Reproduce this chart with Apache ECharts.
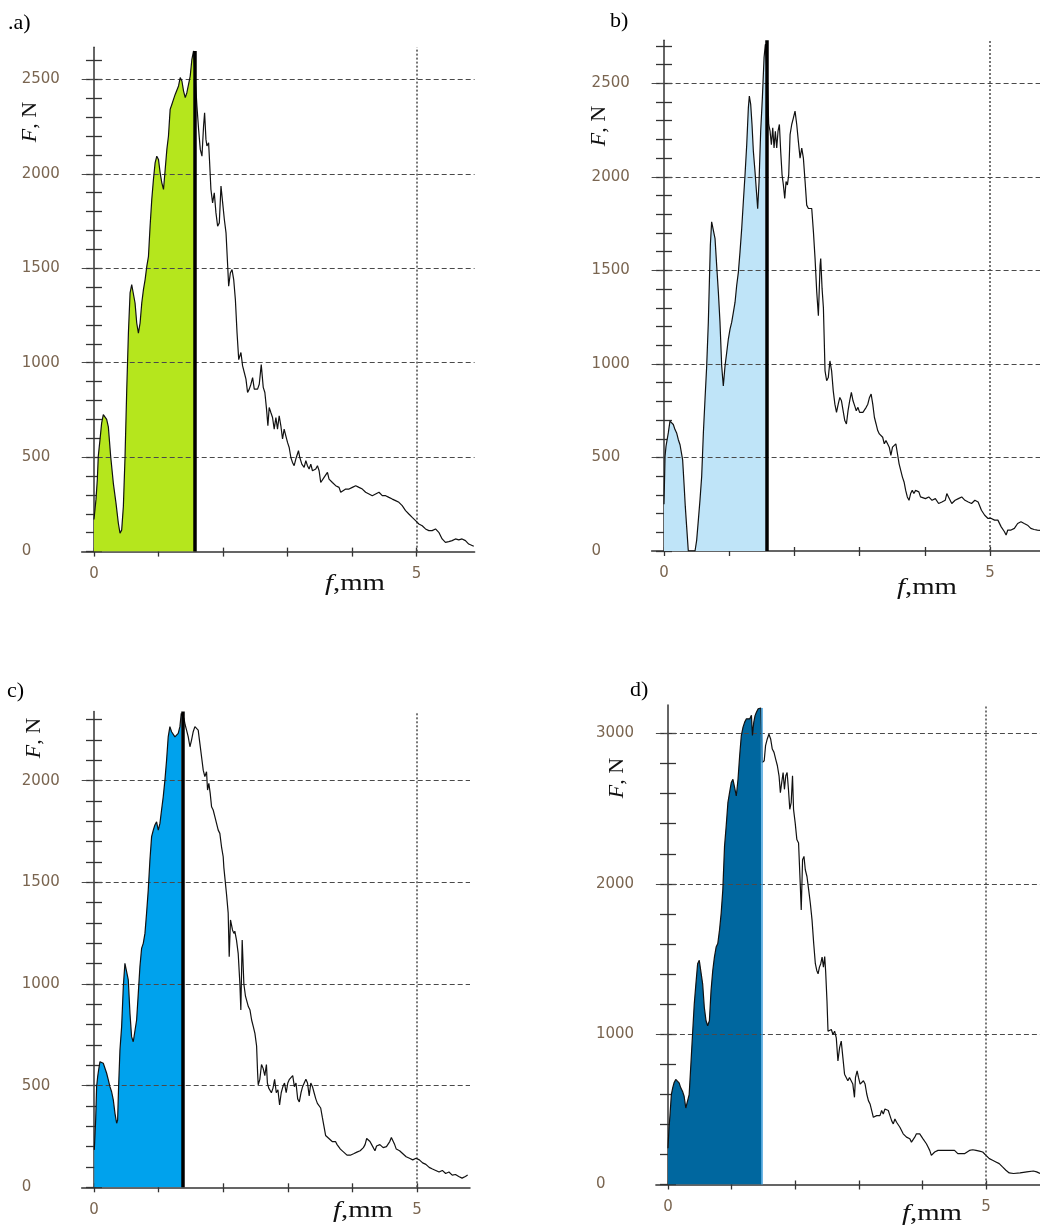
<!DOCTYPE html>
<html>
<head>
<meta charset="utf-8">
<script src="https://cdn.jsdelivr.net/npm/echarts@6/dist/echarts.min.js"></script>
<style>
html,body{margin:0;padding:0;background:#ffffff;}
#chart{width:1040px;height:1227px;}
</style>
</head>
<body>
<div id="chart"></div>
<script>
// ---------------- DATA ----------------
// deflection f (mm), force F (N)
const curveA = [
[0.000,170],[0.031,275],[0.052,380],[0.067,505],[0.093,590],[0.119,680],[0.145,725],[0.171,725],[0.197,700],[0.223,660],[0.259,505],[0.301,360],[0.342,255],[0.378,150],[0.404,97],[0.430,115],[0.456,240],[0.482,505],[0.508,855],[0.534,1157],[0.560,1370],[0.585,1413],[0.611,1405],[0.637,1316],[0.663,1210],[0.689,1157],[0.715,1210],[0.741,1316],[0.767,1387],[0.793,1440],[0.819,1510],[0.845,1563],[0.870,1722],[0.896,1864],[0.922,1970],[0.948,2058],[0.974,2093],[1.000,2076],[1.026,2005],[1.052,1952],[1.078,1917],[1.104,2023],[1.130,2129],[1.155,2200],[1.181,2341],[1.207,2367],[1.233,2394],[1.259,2420],[1.285,2429],[1.311,2465],[1.337,2509],[1.363,2491],[1.389,2438],[1.415,2403],[1.440,2429],[1.466,2438],[1.492,2517],[1.518,2606],[1.544,2650],[1.560,2650],
[1.596,2359],[1.622,2235],[1.648,2129],[1.674,2093],[1.699,2253],[1.715,2323],[1.736,2182],[1.751,2147],[1.777,2164],[1.793,2058],[1.813,1917],[1.839,1846],[1.865,1899],[1.891,1793],[1.917,1722],[1.943,1740],[1.969,1935],[1.995,1846],[2.021,1758],[2.047,1687],[2.073,1510],[2.088,1405],[2.114,1475],[2.140,1493],[2.166,1440],[2.192,1334],[2.218,1157],[2.244,1016],[2.278,1054],[2.304,983],[2.330,948],[2.356,913],[2.381,842],[2.407,860],[2.433,886],[2.459,921],[2.485,860],[2.510,869],[2.536,860],[2.562,886],[2.593,990],[2.624,869],[2.649,842],[2.675,754],[2.696,666],[2.716,763],[2.742,736],[2.768,710],[2.794,648],[2.820,710],[2.845,648],[2.871,719],[2.897,666],[2.923,596],[2.948,648],[2.974,613],[3.000,578],[3.026,551],[3.052,498],[3.077,472],[3.103,455],[3.129,490],[3.170,534],[3.191,498],[3.222,463],[3.258,446],[3.284,481],[3.309,455],[3.335,437],[3.361,463],[3.387,428],[3.412,419],[3.438,437],[3.464,455],[3.490,428],[3.515,366],[3.541,375],[3.567,393],[3.593,402],[3.619,419],[3.644,384],[3.670,375],[3.696,366],[3.722,358],[3.747,349],[3.799,340],[3.825,314],[3.851,322],[3.902,331],[3.954,331],[4.005,340],[4.057,349],[4.108,340],[4.160,331],[4.211,314],[4.263,305],[4.314,296],[4.340,287],[4.366,305],[4.418,314],[4.469,296],[4.521,296],[4.572,287],[4.624,278],[4.675,270],[4.727,261],[4.778,243],[4.830,217],[4.881,199],[4.933,181],[4.985,164],[5.036,146],[5.088,137],[5.139,120],[5.191,111],[5.242,111],[5.294,120],[5.345,102],[5.397,67],[5.448,49],[5.500,53],[5.552,58],[5.603,67],[5.655,62],[5.706,67],[5.758,58],[5.809,40],[5.887,28]
];
const curveB = [
[0.000,250],[0.016,505],[0.031,560],[0.066,631],[0.092,694],[0.118,703],[0.143,676],[0.169,649],[0.194,631],[0.220,595],[0.246,568],[0.271,559],[0.286,487],[0.307,362],[0.327,237],[0.348,129],[0.373,0],[0.476,0],[0.501,57],[0.527,165],[0.552,272],[0.578,398],[0.604,631],[0.629,810],[0.655,989],[0.680,1222],[0.696,1437],[0.711,1634],[0.731,1760],[0.757,1760],[0.783,1670],[0.808,1527],[0.834,1384],[0.859,1222],[0.885,989],[0.910,882],[0.936,989],[0.962,1061],[0.987,1133],[1.013,1186],[1.038,1222],[1.064,1276],[1.090,1330],[1.115,1419],[1.141,1491],[1.166,1599],[1.192,1724],[1.217,1867],[1.243,2011],[1.269,2172],[1.294,2369],[1.309,2432],[1.330,2387],[1.350,2280],[1.371,2136],[1.396,2029],[1.422,1903],[1.437,1830],[1.458,1975],[1.483,2244],[1.509,2423],[1.535,2638],[1.555,2710],[1.570,2710],
[1.586,2513],[1.606,2280],[1.627,2244],[1.647,2172],[1.668,2262],[1.688,2154],[1.708,2244],[1.729,2154],[1.749,2244],[1.770,2280],[1.790,2136],[1.811,2011],[1.831,1957],[1.852,1885],[1.872,1975],[1.893,1957],[1.913,2011],[1.934,2226],[1.959,2280],[1.985,2315],[2.010,2351],[2.036,2280],[2.061,2190],[2.087,2100],[2.113,2154],[2.138,2100],[2.164,1975],[2.189,1849],[2.215,1831],[2.240,1831],[2.266,1831],[2.292,1706],[2.317,1563],[2.343,1384],[2.368,1258],[2.394,1527],[2.404,1563],[2.425,1401],[2.445,1300],[2.470,963],[2.495,910],[2.520,927],[2.545,1016],[2.571,963],[2.596,856],[2.621,785],[2.646,741],[2.672,785],[2.697,821],[2.722,803],[2.747,750],[2.773,697],[2.798,679],[2.823,750],[2.848,803],[2.874,848],[2.899,803],[2.924,777],[2.949,750],[2.975,768],[3.000,741],[3.025,732],[3.051,741],[3.076,750],[3.101,768],[3.126,785],[3.152,821],[3.177,839],[3.202,785],[3.227,715],[3.253,679],[3.278,644],[3.303,626],[3.328,635],[3.354,608],[3.379,573],[3.404,590],[3.429,573],[3.455,555],[3.480,511],[3.505,555],[3.530,564],[3.556,573],[3.581,520],[3.606,466],[3.631,431],[3.657,395],[3.682,369],[3.707,324],[3.732,289],[3.758,271],[3.783,307],[3.808,324],[3.833,307],[3.859,324],[3.884,333],[3.909,316],[3.934,289],[3.960,298],[4.010,280],[4.061,289],[4.111,271],[4.162,280],[4.212,254],[4.263,262],[4.313,271],[4.338,307],[4.364,289],[4.414,254],[4.465,271],[4.515,280],[4.566,289],[4.616,271],[4.667,262],[4.717,254],[4.768,271],[4.818,262],[4.869,218],[4.919,191],[4.970,174],[5.020,174],[5.071,165],[5.121,165],[5.172,129],[5.222,103],[5.247,85],[5.273,112],[5.323,112],[5.374,121],[5.424,147],[5.475,156],[5.525,147],[5.576,138],[5.626,121],[5.677,115],[5.727,112],[5.767,110]
];
const curveC = [
[0.005,184],[0.026,331],[0.041,495],[0.057,544],[0.072,577],[0.093,618],[0.119,626],[0.144,610],[0.170,602],[0.196,561],[0.222,528],[0.247,495],[0.273,470],[0.299,430],[0.325,364],[0.351,315],[0.366,331],[0.381,495],[0.402,675],[0.428,790],[0.454,987],[0.479,1102],[0.505,1102],[0.531,1020],[0.557,856],[0.582,741],[0.608,716],[0.634,725],[0.660,823],[0.686,954],[0.711,1085],[0.737,1175],[0.763,1200],[0.789,1249],[0.814,1348],[0.840,1462],[0.866,1610],[0.892,1725],[0.918,1757],[0.943,1782],[0.969,1798],[0.995,1757],[1.021,1790],[1.046,1856],[1.072,1921],[1.098,2003],[1.124,2102],[1.149,2216],[1.175,2266],[1.201,2241],[1.227,2233],[1.253,2216],[1.278,2225],[1.304,2233],[1.330,2266],[1.351,2331],[1.371,2339],
[1.392,2307],[1.412,2274],[1.433,2249],[1.459,2216],[1.485,2167],[1.510,2200],[1.536,2241],[1.562,2266],[1.588,2274],[1.613,2249],[1.639,2184],[1.665,2118],[1.691,2052],[1.716,2020],[1.742,2044],[1.758,1954],[1.778,1987],[1.799,1938],[1.820,1872],[1.845,1856],[1.871,1823],[1.897,1790],[1.923,1757],[1.948,1741],[1.974,1675],[2.000,1626],[2.010,1574],[2.052,1440],[2.077,1350],[2.093,1134],[2.113,1315],[2.144,1266],[2.165,1249],[2.180,1260],[2.206,1216],[2.232,1151],[2.258,1003],[2.273,872],[2.294,1216],[2.320,1000],[2.345,940],[2.389,889],[2.415,872],[2.440,823],[2.466,790],[2.491,757],[2.517,695],[2.532,567],[2.542,504],[2.567,531],[2.593,604],[2.618,585],[2.644,549],[2.669,604],[2.684,513],[2.705,488],[2.720,480],[2.746,465],[2.771,488],[2.796,531],[2.822,465],[2.847,480],[2.873,405],[2.898,465],[2.924,495],[2.949,513],[2.975,465],[3.000,513],[3.025,531],[3.051,522],[3.076,549],[3.102,495],[3.127,513],[3.153,435],[3.178,420],[3.204,465],[3.229,495],[3.254,513],[3.280,531],[3.305,513],[3.331,450],[3.356,513],[3.382,495],[3.407,465],[3.433,435],[3.458,413],[3.483,405],[3.509,390],[3.534,345],[3.560,300],[3.585,255],[3.611,248],[3.636,240],[3.662,233],[3.687,225],[3.712,233],[3.738,225],[3.763,210],[3.789,203],[3.814,188],[3.865,173],[3.916,158],[3.967,158],[4.018,165],[4.069,173],[4.120,180],[4.170,195],[4.196,210],[4.221,240],[4.247,245],[4.272,225],[4.298,210],[4.323,203],[4.349,180],[4.374,203],[4.399,195],[4.425,210],[4.450,203],[4.476,195],[4.527,200],[4.578,225],[4.603,245],[4.628,240],[4.654,210],[4.679,188],[4.730,180],[4.781,165],[4.832,150],[4.883,143],[4.934,135],[4.985,143],[5.036,135],[5.087,120],[5.137,113],[5.188,98],[5.239,90],[5.290,83],[5.341,75],[5.392,83],[5.443,68],[5.494,75],[5.545,60],[5.595,63],[5.646,53],[5.697,45],[5.748,53],[5.784,60]
];
const curveD = [
[0.000,241],[0.016,375],[0.032,464],[0.053,598],[0.074,643],[0.095,676],[0.122,699],[0.148,699],[0.175,676],[0.201,643],[0.228,621],[0.254,587],[0.280,509],[0.307,509],[0.333,598],[0.360,799],[0.386,1000],[0.413,1201],[0.439,1335],[0.466,1469],[0.492,1491],[0.519,1480],[0.545,1335],[0.571,1179],[0.598,1089],[0.624,1056],[0.651,1089],[0.677,1290],[0.704,1424],[0.730,1513],[0.757,1580],[0.783,1603],[0.810,1692],[0.836,1804],[0.862,1960],[0.889,2250],[0.915,2384],[0.942,2540],[0.968,2607],[0.995,2674],[1.021,2696],[1.048,2641],[1.074,2585],[1.101,2696],[1.127,2853],[1.153,2987],[1.180,3043],[1.206,3076],[1.233,3098],[1.259,3109],[1.286,3098],[1.312,3121],[1.328,2987],[1.349,3076],[1.370,3121],[1.392,3143],[1.418,3165],[1.460,3170],[1.471,3170],
[1.481,2808],[1.513,2819],[1.534,2920],[1.561,2964],[1.587,2996],[1.614,2964],[1.640,2897],[1.667,2875],[1.693,2830],[1.720,2786],[1.746,2719],[1.767,2607],[1.788,2674],[1.810,2741],[1.831,2629],[1.852,2719],[1.873,2741],[1.894,2629],[1.915,2496],[1.937,2540],[1.958,2719],[1.974,2496],[2.000,2406],[2.026,2295],[2.053,2272],[2.079,2004],[2.095,1826],[2.116,2161],[2.138,2183],[2.159,2094],[2.185,2049],[2.212,1960],[2.238,1871],[2.265,1759],[2.291,1603],[2.317,1469],[2.339,1424],[2.360,1402],[2.381,1446],[2.402,1469],[2.423,1513],[2.444,1446],[2.464,1516],[2.479,1417],[2.500,1219],[2.516,1020],[2.542,1009],[2.568,1031],[2.594,998],[2.620,1020],[2.646,976],[2.672,822],[2.698,910],[2.724,954],[2.750,844],[2.776,734],[2.802,712],[2.828,690],[2.854,712],[2.880,701],[2.906,668],[2.932,580],[2.948,712],[2.974,756],[2.995,712],[3.021,668],[3.047,668],[3.073,690],[3.099,668],[3.125,602],[3.151,558],[3.177,536],[3.203,492],[3.229,447],[3.255,447],[3.281,458],[3.307,447],[3.333,458],[3.359,492],[3.385,469],[3.411,502],[3.438,513],[3.464,492],[3.490,458],[3.516,425],[3.542,403],[3.568,436],[3.594,414],[3.620,403],[3.646,381],[3.672,370],[3.698,337],[3.724,326],[3.750,315],[3.776,326],[3.802,304],[3.828,282],[3.854,293],[3.880,315],[3.906,337],[3.932,326],[3.958,337],[3.984,326],[4.010,304],[4.036,293],[4.063,271],[4.089,249],[4.115,227],[4.141,194],[4.167,205],[4.193,216],[4.245,227],[4.297,227],[4.349,227],[4.401,227],[4.453,227],[4.505,227],[4.557,205],[4.609,205],[4.661,205],[4.688,194],[4.740,227],[4.792,231],[4.844,227],[4.896,222],[4.948,216],[5.000,194],[5.052,172],[5.104,161],[5.156,150],[5.208,139],[5.260,117],[5.313,95],[5.365,77],[5.432,73],[5.536,77],[5.641,84],[5.745,90],[5.797,84],[5.849,73]
];
// end of the coloured area (mm) and top of the thick marker line (N)
const cutA = 1.560, cutB = 1.570, cutC = 1.371, cutD = 1.471;
const barTopA = 2650, barTopB = 2730, barTopC = 2340;
// axis ticks / labels
const xTickValues = [0, 1, 2, 3, 4, 5];
const xLabelValues = [0, 5];
const yLabelsA = [0, 500, 1000, 1500, 2000, 2500];
const yLabelsB = [0, 500, 1000, 1500, 2000, 2500];
const yLabelsC = [0, 500, 1000, 1500, 2000];
const yLabelsD = [0, 1000, 2000, 3000];
const gridLinesA = [500, 1000, 1500, 2000, 2500];
const gridLinesB = [500, 1000, 1500, 2000, 2500];
const gridLinesC = [500, 1000, 1500, 2000];
const gridLinesD = [1000, 2000, 3000];
const panelTags = ['.a)', 'b)', 'c)', 'd)'];

function steps(a, b, s) { const r = []; for (let v = a; v <= b + 1e-9; v += s) r.push(Math.round(v)); return r; }

// ---------------- LAYOUT / STYLE ----------------
const LABEL_COLOR = '#7a6550';
const AXIS_COLOR = '#333333';
const GRID_COLOR = '#4a4a4a';
const XMIN = -0.19;

const panels = [
  { curve: curveA, cut: cutA, barTop: barTopA, fill: '#b5e61d', edge: null,
    rect: { left: 81.7, top: 47.2, width: 392.9, height: 504.4 }, xMax: 5.9, yMax: 2670, interval: 500,
    ticks: steps(0, 2600, 100), labels: yLabelsA, lines: gridLinesA },
  { curve: curveB, cut: cutB, barTop: barTopB, fill: '#bfe4f8', edge: null,
    rect: { left: 651.6, top: 40.3, width: 388.4, height: 510.7 }, xMax: 5.767, yMax: 2730, interval: 500,
    ticks: steps(0, 2700, 100), labels: yLabelsB, lines: gridLinesB },
  { curve: curveC, cut: cutC, barTop: barTopC, fill: '#00a2ed', edge: null,
    rect: { left: 81.7, top: 711.6, width: 388.3, height: 475.7 }, xMax: 5.82, yMax: 2340, interval: 500,
    ticks: steps(0, 2300, 100), labels: yLabelsC, lines: gridLinesC },
  { curve: curveD, cut: cutD, barTop: null, fill: '#00679f', edge: '#3f9fdc',
    rect: { left: 655.9, top: 705.0, width: 384.1, height: 479.5 }, xMax: 5.849, yMax: 3190, interval: 1000,
    ticks: steps(0, 3000, 200), labels: yLabelsD, lines: gridLinesD }
];

const option = { animation: false, backgroundColor: '#ffffff', grid: [], xAxis: [], yAxis: [], series: [], graphic: [] };

panels.forEach((p, i) => {
  option.grid.push(Object.assign({ containLabel: false, outerBoundsMode: 'none', show: false }, p.rect));
  const xi = option.xAxis.length;
  const tickStyle = { color: AXIS_COLOR, width: 1.3 };
  option.xAxis.push({
    type: 'value', gridIndex: i, min: XMIN, max: p.xMax, position: 'bottom',
    axisLine: { show: true, onZero: false, lineStyle: { color: AXIS_COLOR, width: 1.5 } },
    axisTick: { show: true, inside: false, length: 5, customValues: xTickValues, lineStyle: tickStyle },
    axisLabel: { show: true, customValues: xLabelValues, margin: 15, color: LABEL_COLOR,
      fontFamily: 'DejaVu Sans', fontSize: 15, formatter: v => String(v) },
    splitLine: { show: false }
  });
  option.xAxis.push({
    type: 'value', gridIndex: i, min: XMIN, max: p.xMax, position: 'bottom',
    axisLine: { show: false, onZero: false },
    axisTick: { show: true, inside: true, length: 4, customValues: xTickValues, lineStyle: tickStyle },
    axisLabel: { show: false }, splitLine: { show: false }
  });
  const yi = option.yAxis.length;
  option.yAxis.push({
    type: 'value', gridIndex: i, min: 0, max: p.yMax, interval: p.interval, position: 'left',
    axisLine: { show: true, onZero: true, onZeroAxisIndex: xi, lineStyle: { color: AXIS_COLOR, width: 1.5 } },
    axisTick: { show: true, inside: true, length: 8, customValues: p.ticks, lineStyle: tickStyle },
    axisLabel: { show: true, customValues: p.labels, align: 'left', margin: 60, color: LABEL_COLOR,
      fontFamily: 'DejaVu Sans', fontSize: 15, formatter: v => String(v) },
    splitLine: { show: false }
  });
  option.yAxis.push({
    type: 'value', gridIndex: i, min: 0, max: p.yMax, interval: p.interval, position: 'left',
    axisLine: { show: false, onZero: true, onZeroAxisIndex: xi },
    axisTick: { show: true, inside: false, length: 8, customValues: p.ticks, lineStyle: tickStyle },
    axisLabel: { show: false }, splitLine: { show: false }
  });

  const gridMarks = p.lines.map(v => ({ yAxis: v, lineStyle: { color: GRID_COLOR, width: 1, type: [5, 3] } }));
  gridMarks.push({ xAxis: 5, lineStyle: { color: GRID_COLOR, width: 1.5, type: [2, 2] } });

  // coloured area up to the cut
  option.series.push({
    type: 'line', xAxisIndex: xi, yAxisIndex: yi, silent: true, symbol: 'none', showSymbol: false,
    data: p.curve.filter(d => d[0] <= p.cut + 1e-9),
    lineStyle: { width: 0, opacity: 0 }, areaStyle: { color: p.fill, opacity: 1 }, z: 1,
    markLine: { silent: true, symbol: ['none', 'none'], label: { show: false }, z: 2, animation: false, data: gridMarks }
  });

  const barMarks = [];
  if (p.barTop !== null) {
    barMarks.push([{ coord: [p.cut, 0], lineStyle: { color: '#000', width: 3.5, type: 'solid' } }, { coord: [p.cut, p.barTop] }]);
  }
  if (p.edge) {
    const top = p.curve.filter(d => d[0] <= p.cut + 1e-9).slice(-1)[0][1];
    barMarks.push([{ coord: [p.cut, 0], lineStyle: { color: p.edge, width: 1.5, type: 'solid' } }, { coord: [p.cut, top] }]);
  }
  option.series.push({
    type: 'line', xAxisIndex: xi, yAxisIndex: yi, silent: true, symbol: 'none', showSymbol: false,
    data: p.curve, lineStyle: { color: '#111', width: 1.2 }, z: 3,
    markLine: { silent: true, symbol: ['none', 'none'], label: { show: false }, z: 4, animation: false, data: barMarks }
  });
});

// ---------------- TEXTS ----------------
const SERIF = 'Liberation Serif';
const tagPos = [[8, 23], [610, 21], [7, 691], [630, 690]];
const FPos = [[30, 122], [599, 126], [34, 738], [617, 778]];
const fPos = [[355, 584], [927, 588], [363, 1211], [932, 1214]];
panels.forEach((p, i) => {
  option.graphic.push({
    type: 'text', x: tagPos[i][0], y: tagPos[i][1], silent: true,
    style: { text: panelTags[i], fontFamily: SERIF, fontSize: 22, fill: '#000',
      align: 'left', verticalAlign: 'middle', textAlign: 'left', textVerticalAlign: 'middle' }
  });
  option.graphic.push({
    type: 'text', x: FPos[i][0], y: FPos[i][1], rotation: Math.PI / 2, silent: true,
    style: { text: '{i|F}{n|, N}', align: 'center', verticalAlign: 'middle', textAlign: 'center', textVerticalAlign: 'middle',
      rich: { i: { fontFamily: SERIF, fontSize: 22, fontStyle: 'italic', fill: '#111' },
              n: { fontFamily: SERIF, fontSize: 22, fill: '#111' } } }
  });
  option.graphic.push({
    type: 'text', x: fPos[i][0], y: fPos[i][1], scaleX: 1.2, silent: true,
    style: { text: '{i|f}{n|,mm}', align: 'center', verticalAlign: 'middle', textAlign: 'center', textVerticalAlign: 'middle',
      rich: { i: { fontFamily: SERIF, fontSize: 24, fontStyle: 'italic', fill: '#111' },
              n: { fontFamily: SERIF, fontSize: 24, fill: '#111' } } }
  });
});

const chart = echarts.init(document.getElementById('chart'), null, { renderer: 'canvas' });
chart.setOption(option);
</script>
</body>
</html>
